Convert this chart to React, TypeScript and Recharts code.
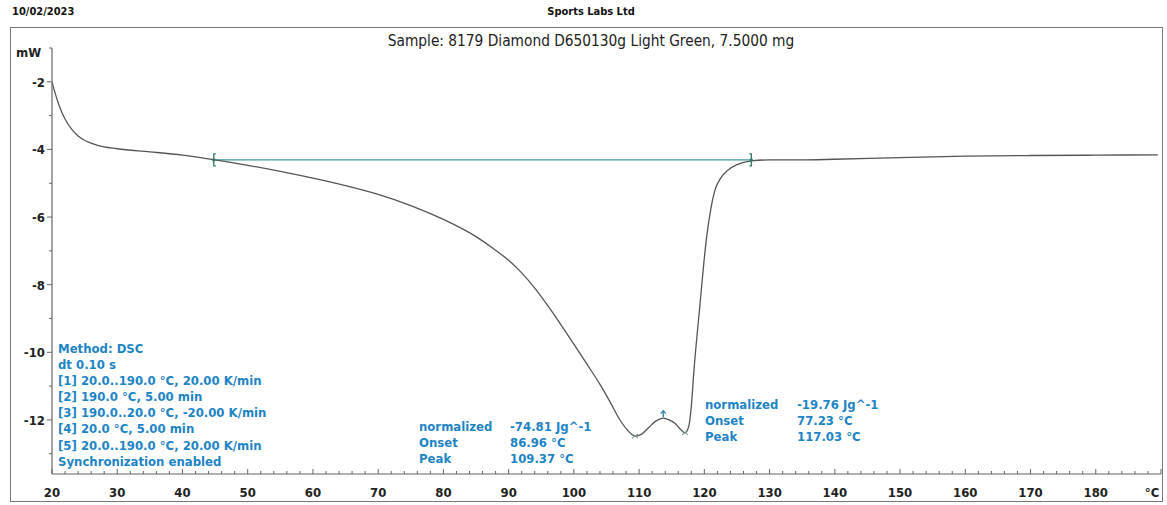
import { ComposedChart, Line, Scatter, XAxis, YAxis } from "recharts";

// DSC heat flow curve
const temps = [
  20, 20.5, 21, 21.5, 22, 23, 24, 25, 27, 30, 35, 40, 45, 50, 55, 60, 65, 70, 75,
  80, 85, 88, 90, 92, 94, 96, 98, 100, 102, 104, 105.5, 107, 108.2, 109.4, 110.4,
  111.4, 112.6, 113.7, 114.6, 115.5, 116.3, 117.0, 117.6, 118.0, 118.4, 119.3,
  120.3, 121.0, 121.6, 122.5, 123.7, 125, 127.2, 130, 135, 140, 150, 160, 170,
  180, 189.5,
];
const heatFlow = [
  -2.0, -2.35, -2.65, -2.9, -3.1, -3.4, -3.6, -3.73, -3.88, -3.98, -4.07, -4.17,
  -4.31, -4.47, -4.65, -4.85, -5.07, -5.33, -5.66, -6.07, -6.58, -6.98, -7.28,
  -7.65, -8.1, -8.62, -9.18, -9.76, -10.35, -10.95, -11.45, -11.98, -12.3,
  -12.48, -12.42, -12.24, -12.03, -11.95, -12.0, -12.1, -12.27, -12.38, -12.2,
  -11.6, -10.55, -8.65, -6.67, -5.75, -5.22, -4.85, -4.6, -4.45, -4.34, -4.31,
  -4.31, -4.29, -4.24, -4.2, -4.18, -4.17, -4.16,
];

// integration baseline
const baselineT = [44.8, 127.2];
const baselineMw = [-4.31, -4.31];

// peak and split markers
const peakT = [109.37, 117.03];
const peakMw = [-12.48, -12.38];
const splitT = [113.7];
const splitMw = [-11.92];

const xTicks = [20, 30, 40, 50, 60, 70, 80, 90, 100, 110, 120, 130, 140, 150, 160, 170, 180, 190];
const yTicks = [-2, -4, -6, -8, -10, -12];

const methodLines = [
  "Method: DSC",
  "dt 0.10 s",
  "[1] 20.0..190.0 °C, 20.00 K/min",
  "[2] 190.0 °C, 5.00 min",
  "[3] 190.0..20.0 °C, -20.00 K/min",
  "[4] 20.0 °C, 5.00 min",
  "[5] 20.0..190.0 °C, 20.00 K/min",
  "Synchronization enabled",
];
const peak1Labels = ["normalized", "Onset", "Peak"];
const peak1Values = ["-74.81 Jg^-1", "86.96 °C", "109.37 °C"];
const peak2Labels = ["normalized", "Onset", "Peak"];
const peak2Values = ["-19.76 Jg^-1", "77.23 °C", "117.03 °C"];

const curveData = temps.map((t, i) => ({ t, mw: heatFlow[i] }));
const baselineData = baselineT.map((t, i) => ({ t, mw: baselineMw[i] }));
const peakData = peakT.map((t, i) => ({ t, mw: peakMw[i] }));
const splitData = splitT.map((t, i) => ({ t, mw: splitMw[i] }));

// minor ticks every 2 degC / 1 mW
const allXTicks: number[] = [];
for (let v = 20; v <= 190; v += 2) allXTicks.push(v);
const allYTicks: number[] = [];
for (let v = -13; v <= -1; v += 1) allYTicks.push(v);

const FONT = "Tahoma, 'DejaVu Sans Condensed', 'DejaVu Sans', sans-serif";
const BLUE = "#1d84c6";
const AXIS = "#666";

const XTick = (props: any) => {
  const { x, y, payload } = props;
  const v = payload.value;
  const major = v % 10 === 0;
  let label: string | null = null;
  if (major && xTicks.includes(v)) label = v === 190 ? "°C" : String(v);
  return (
    <g>
      <line x1={x} x2={x} y1={y} y2={y - (major ? 5 : 3)} stroke={AXIS} strokeWidth={1} />
      {label && (
        <text
          x={v === 190 ? x - 9 : x}
          y={y + 23}
          textAnchor="middle"
          fontFamily={FONT}
          fontWeight="bold"
          fontSize={13}
          fill="#222"
        >
          {label}
        </text>
      )}
    </g>
  );
};

const YTick = (props: any) => {
  const { x, y, payload } = props;
  const v = payload.value;
  const major = yTicks.includes(v);
  return (
    <g>
      <line x1={x} x2={x - (major ? 5 : 3)} y1={y} y2={y} stroke={AXIS} strokeWidth={1} />
      {major && (
        <text
          x={x - 7}
          y={y + 5}
          textAnchor="end"
          fontFamily={FONT}
          fontWeight="bold"
          fontSize={13}
          fill="#222"
        >
          {v}
        </text>
      )}
    </g>
  );
};

const Bracket = (props: any) => {
  const { cx, cy, index } = props;
  const d = index === 0 ? 2 : -2;
  return (
    <g stroke="#2f7a66" strokeWidth={1.3} fill="none">
      <path d={`M${cx + d},${cy - 6} L${cx},${cy - 6} L${cx},${cy + 6} L${cx + d},${cy + 6}`} />
      <circle cx={cx} cy={cy} r={1} fill="#2f7a66" />
    </g>
  );
};

const Cross = (props: any) => {
  const { cx, cy } = props;
  return (
    <g stroke="#6f8f8f" strokeWidth={1}>
      <line x1={cx - 3} x2={cx + 3} y1={cy - 2} y2={cy + 2} />
      <line x1={cx - 3} x2={cx + 3} y1={cy + 2} y2={cy - 2} />
    </g>
  );
};

const Arrow = (props: any) => {
  const { cx, cy } = props;
  return (
    <g stroke="#2a7fa8" strokeWidth={1.3} fill="none">
      <line x1={cx} x2={cx} y1={cy - 6} y2={cy} />
      <path d={`M${cx - 2.5},${cy - 3.5} L${cx},${cy - 6.5} L${cx + 2.5},${cy - 3.5}`} />
    </g>
  );
};

const textBlock = (lines: string[], left: number, top: number) => (
  <div
    style={{
      position: "absolute",
      left,
      top,
      fontFamily: FONT,
      fontWeight: "bold",
      fontSize: 13,
      lineHeight: "16.1px",
      color: BLUE,
      whiteSpace: "pre",
    }}
  >
    {lines.map((l, i) => (
      <div key={i}>{l}</div>
    ))}
  </div>
);

export default function App() {
  return (
    <div
      style={{
        position: "absolute",
        left: 0,
        top: 0,
        width: 1167,
        height: 505,
        background: "#fff",
        overflow: "hidden",
      }}
    >
      <div
        style={{
          position: "absolute",
          left: 12,
          top: 5,
          fontFamily: FONT,
          fontWeight: "bold",
          fontSize: 11,
          color: "#111",
        }}
      >
        10/02/2023
      </div>
      <div
        style={{
          position: "absolute",
          left: 0,
          width: 1182,
          top: 5,
          textAlign: "center",
          fontFamily: FONT,
          fontWeight: "bold",
          fontSize: 11,
          color: "#111",
        }}
      >
        Sports Labs Ltd
      </div>
      <div
        style={{
          position: "absolute",
          left: 10,
          top: 27,
          width: 1151,
          height: 473,
          border: "1.5px solid #777",
        }}
      />
      <div
        style={{
          position: "absolute",
          left: 0,
          width: 1182,
          top: 32,
          textAlign: "center",
          fontFamily: FONT,
          fontSize: 15.3,
          color: "#222",
        }}
      >
        Sample: 8179 Diamond D650130g Light Green, 7.5000 mg
      </div>
      <div
        style={{
          position: "absolute",
          left: 16,
          top: 45,
          fontFamily: FONT,
          fontWeight: "bold",
          fontSize: 13,
          color: "#222",
        }}
      >
        mW
      </div>

      <div style={{ position: "absolute", left: 0, top: 0 }}>
        <ComposedChart
          width={1167}
          height={505}
          margin={{ top: 48, right: 6, bottom: 0, left: 10 }}
        >
          <XAxis
            type="number"
            dataKey="t"
            domain={[20, 190]}
            ticks={allXTicks}
            interval={0}
            allowDataOverflow
            height={31}
            tickSize={0}
            tickMargin={0}
            tickLine={false}
            axisLine={{ stroke: AXIS, strokeWidth: 1.2 }}
            tick={<XTick />}
          />
          <YAxis
            type="number"
            dataKey="mw"
            domain={[-13.6, -1]}
            ticks={allYTicks}
            interval={0}
            allowDataOverflow
            width={42}
            tickSize={0}
            tickMargin={0}
            tickLine={false}
            axisLine={{ stroke: AXIS, strokeWidth: 1.2 }}
            tick={<YTick />}
          />
          <Line
            data={baselineData}
            dataKey="mw"
            type="linear"
            stroke="#3a9ba8"
            strokeWidth={1.2}
            dot={false}
            isAnimationActive={false}
          />
          <Line
            data={curveData}
            dataKey="mw"
            type="monotone"
            stroke="#555"
            strokeWidth={1.3}
            dot={false}
            isAnimationActive={false}
          />
          <Scatter data={baselineData} dataKey="mw" shape={<Bracket />} isAnimationActive={false} />
          <Scatter data={peakData} dataKey="mw" shape={<Cross />} isAnimationActive={false} />
          <Scatter data={splitData} dataKey="mw" shape={<Arrow />} isAnimationActive={false} />
        </ComposedChart>
      </div>

      {textBlock(methodLines, 58, 341)}
      {textBlock(peak1Labels, 419, 419)}
      {textBlock(peak1Values, 510, 419)}
      {textBlock(peak2Labels, 705, 397)}
      {textBlock(peak2Values, 797, 397)}
    </div>
  );
}
